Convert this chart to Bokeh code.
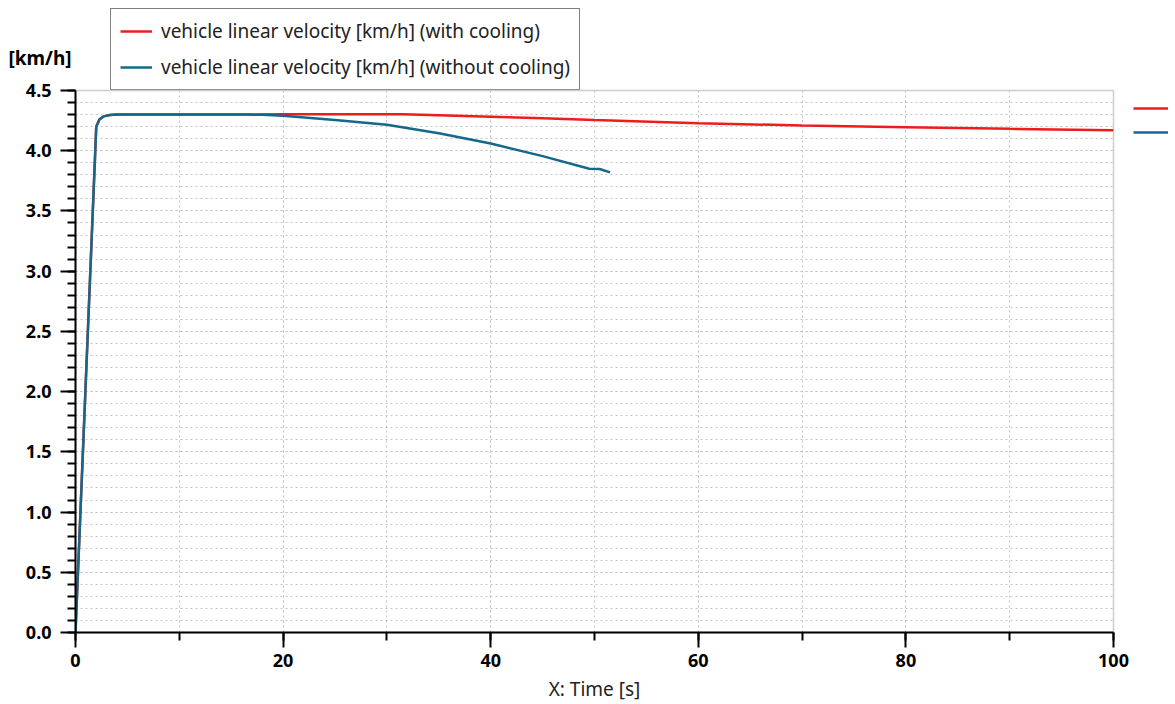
from bokeh.plotting import figure
from bokeh.layouts import column, row
from bokeh.models import Legend, LegendItem, Label, Range1d, FixedTicker, CustomJSTickFormatter
from bokeh.core.properties import value
from bokeh.embed import file_html
from bokeh.resources import INLINE

# data
t_cool = [0, 1.0, 2.0, 2.3, 2.7, 3.3, 4.0, 10, 20, 31.5, 35, 40, 45, 50, 60, 70, 80, 90, 100]
v_cool = [0, 2.1, 4.2, 4.26, 4.285, 4.297, 4.30, 4.30, 4.302, 4.302, 4.295, 4.283, 4.27, 4.255,
          4.228, 4.21, 4.195, 4.182, 4.17]
t_nocool = [0, 1.0, 2.0, 2.3, 2.7, 3.3, 4.0, 10, 16.5, 18, 20, 25, 30, 35, 40, 45, 49.5, 50.5, 51.5]
v_nocool = [0, 2.1, 4.2, 4.26, 4.285, 4.297, 4.30, 4.30, 4.30, 4.298, 4.29, 4.255, 4.215, 4.145,
            4.06, 3.955, 3.85, 3.848, 3.82]
label_cool = "vehicle linear velocity [km/h] (with cooling)"
label_nocool = "vehicle linear velocity [km/h] (without cooling)"
y_unit = "[km/h]"
x_title = "X: Time [s]"
x_major = [0, 20, 40, 60, 80, 100]
x_minor = list(range(0, 101, 10))
y_major = [0.0, 0.5, 1.0, 1.5, 2.0, 2.5, 3.0, 3.5, 4.0, 4.5]
y_minor = [round(i * 0.1, 1) for i in range(46)]

FONT = "Noto Sans"
RED = "#ee1c1c"
BLUE = "#14688b"
LW = 2.5

# ---------- top strip: legend, unit and line-end markers ----------
TH = 145
top = figure(width=1175, height=TH, output_backend="svg", toolbar_location=None,
             x_range=Range1d(0, 1175), y_range=Range1d(TH, 0),
             x_axis_type=None, y_axis_type=None,
             min_border_left=0, min_border_right=0, min_border_top=0, min_border_bottom=0)
top.outline_line_color = None
k1 = top.line(t_cool[:1], v_cool[:1], line_color=RED, line_width=LW)
k2 = top.line(t_nocool[:1], v_nocool[:1], line_color=BLUE, line_width=LW)
leg = Legend(items=[LegendItem(label=value(label_cool), renderers=[k1]),
                    LegendItem(label=value(label_nocool), renderers=[k2])],
             location=(110, TH - 90), orientation="vertical")
leg.border_line_color = "black"
leg.border_line_width = 1.5
leg.background_fill_color = "white"
leg.background_fill_alpha = 1
leg.padding = 9
leg.margin = 0
leg.spacing = 10
leg.label_height = 26
leg.glyph_height = 26
leg.glyph_width = 32
leg.label_standoff = 9
leg.label_text_font = FONT
leg.label_text_font_size = "19px"
leg.label_text_color = "#222222"
top.add_layout(leg, "center")
top.add_layout(Label(x=8, y=57, text=y_unit, text_font=FONT, text_font_style="bold",
                     text_font_size="19px", text_baseline="middle", text_align="left",
                     text_color="black"))

leg2 = Legend(items=[LegendItem(label=value(" "), renderers=[k1]),
                     LegendItem(label=value(" "), renderers=[k2])],
              location=(1133, 1), orientation="vertical")
leg2.border_line_color = None
leg2.background_fill_alpha = 0
leg2.padding = 0
leg2.margin = 0
leg2.spacing = 0
leg2.label_height = 24
leg2.glyph_height = 24
leg2.glyph_width = 35
leg2.label_standoff = 0
leg2.label_width = 0
leg2.label_text_font_size = "10px"
top.add_layout(leg2, "center")

# ---------- main chart ----------
fig = figure(width=1131, height=626, output_backend="svg", toolbar_location=None,
             x_range=Range1d(0, 100), y_range=Range1d(0, 4.5),
             min_border_left=75, min_border_right=18, min_border_top=12, min_border_bottom=70)
fig.outline_line_color = "#cccccc"
fig.outline_line_width = 1.5
fig.border_fill_alpha = 0

r1 = fig.line(t_cool, v_cool, line_color=RED, line_width=LW)
r2 = fig.line(t_nocool, v_nocool, line_color=BLUE, line_width=LW)

fig.xaxis.ticker = FixedTicker(ticks=x_major, minor_ticks=x_minor)
fig.yaxis.ticker = FixedTicker(ticks=y_major, minor_ticks=y_minor)
fig.yaxis.formatter = CustomJSTickFormatter(code="return tick.toFixed(1)")
for ax in (fig.xaxis[0], fig.yaxis[0]):
    ax.axis_line_color = "black"
    ax.axis_line_width = 2
    ax.major_tick_line_color = "black"
    ax.major_tick_line_width = 2
    ax.minor_tick_line_color = "black"
    ax.minor_tick_line_width = 2
    ax.major_tick_in = 0
    ax.major_tick_out = 15
    ax.minor_tick_in = 0
    ax.minor_tick_out = 8
    ax.major_label_text_font = FONT
    ax.major_label_text_font_style = "bold"
    ax.major_label_text_font_size = "18px"
    ax.major_label_text_color = "black"
fig.yaxis.major_label_standoff = 9
fig.xaxis.major_label_standoff = 6
fig.xaxis.axis_label = x_title
fig.xaxis.axis_label_text_font = FONT
fig.xaxis.axis_label_text_font_style = "normal"
fig.xaxis.axis_label_text_font_size = "19px"
fig.xaxis.axis_label_text_color = "#222222"
fig.xaxis.axis_label_standoff = 6

for g in (fig.xgrid[0], fig.ygrid[0]):
    g.grid_line_color = "#c4c4c4"
    g.grid_line_dash = "2 3"
    g.grid_line_width = 1
    g.minor_grid_line_color = "#c4c4c4"
    g.minor_grid_line_dash = "2 3"
    g.minor_grid_line_width = 1

p = column(top, row(fig, spacing=0, margin=(78 - TH, 0, 0, 0)), spacing=0)

open("out.html", "w").write(file_html(p, INLINE))
